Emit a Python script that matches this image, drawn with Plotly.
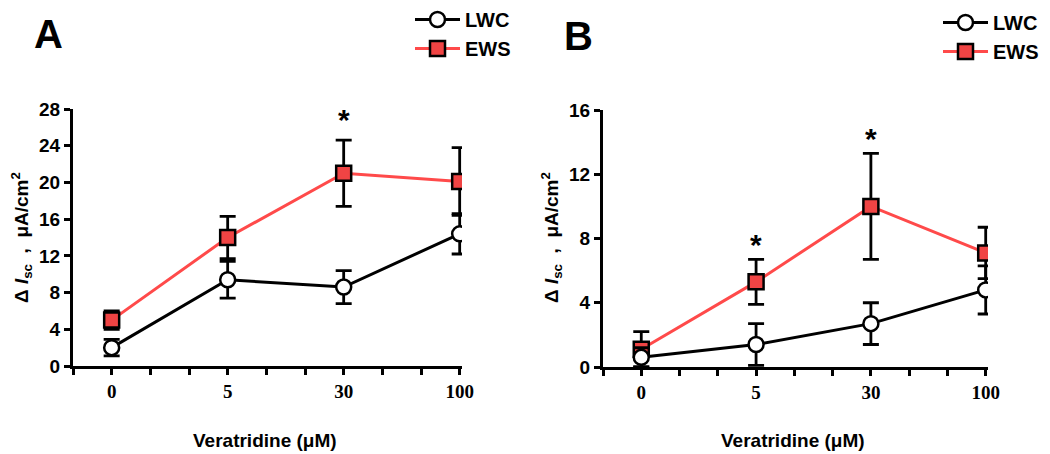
import plotly.graph_objects as go

categories = ["0", "5", "30", "100"]
xpos = [0, 1, 2, 3]

# Panel A
a_lwc = [2.0, 9.4, 8.6, 14.4]
a_lwc_err = [0.9, 2.0, 1.8, 2.2]
a_ews = [5.0, 14.0, 21.0, 20.1]
a_ews_err = [1.0, 2.3, 3.6, 3.7]
a_star_x = [2]
a_star_y = [26.9]

# Panel B
b_lwc = [0.6, 1.4, 2.7, 4.8]
b_lwc_err = [0.6, 1.3, 1.3, 1.5]
b_ews = [1.1, 5.3, 10.0, 7.1]
b_ews_err = [1.1, 1.4, 3.3, 1.6]
b_star_x = [1, 2]
b_star_y = [7.6, 14.2]

a_yticks = [0, 4, 8, 12, 16, 20, 24, 28]
b_yticks = [0, 4, 8, 12, 16]

RED = "#F04444"
LINE_RED = "#FF4A4A"

fig = go.Figure()

def add_panel(xa, ya, lwc, lwc_err, ews, ews_err, legend):
    fig.add_trace(go.Scatter(
        x=xpos, y=ews, name="EWS", mode="lines+markers", legendgroup=legend + "e",
        line=dict(color=LINE_RED, width=3),
        marker=dict(symbol="square", size=15, color=RED, line=dict(color="black", width=2.5)),
        error_y=dict(type="data", array=ews_err, color="black", thickness=2.8, width=8),
        xaxis=xa, yaxis=ya, legend=legend))
    fig.add_trace(go.Scatter(
        x=xpos, y=lwc, name="LWC", mode="lines+markers", legendgroup=legend + "l",
        line=dict(color="black", width=3),
        marker=dict(symbol="circle", size=15, color="white", line=dict(color="black", width=2.5)),
        error_y=dict(type="data", array=lwc_err, color="black", thickness=2.8, width=8),
        xaxis=xa, yaxis=ya, legend=legend))

add_panel("x", "y", a_lwc, a_lwc_err, a_ews, a_ews_err, "legend")
add_panel("x2", "y2", b_lwc, b_lwc_err, b_ews, b_ews_err, "legend2")

minor_vals = [i / 3 for i in range(-1, 10)]
minor_text = []
for v in minor_vals:
    r = round(v, 6)
    if abs(r - round(r)) < 1e-6 and 0 <= round(r) <= 3:
        minor_text.append(categories[int(round(r))])
    else:
        minor_text.append("")

xax = dict(range=[-1/3, 3.02], tickvals=minor_vals, ticktext=minor_text,
           showgrid=False, zeroline=False, showline=True, linecolor="black", linewidth=3,
           ticks="outside", ticklen=6, tickwidth=2.5, tickcolor="black",
           tickfont=dict(family="Liberation Serif", size=19, color="black", weight="bold"),
           fixedrange=True)
yfont = dict(family="Liberation Sans Narrow, Liberation Sans", size=19, color="black", weight="bold")
legfont = dict(family="Liberation Sans", size=20, color="black", weight="bold")

fig.update_layout(
    width=1050, height=454, margin=dict(l=0, r=0, t=0, b=0, autoexpand=False),
    paper_bgcolor="white", plot_bgcolor="white",
    xaxis=dict(domain=[73/1050, 462/1050], anchor="y", **xax),
    xaxis2=dict(domain=[603/1050, 988/1050], anchor="y2", **xax),
    yaxis=dict(domain=[88/454, 345/454], range=[0, 28], tickvals=a_yticks, anchor="x",
               showgrid=False, zeroline=False, showline=True, linecolor="black", linewidth=3,
               ticks="outside", ticklen=6, tickwidth=2.5, tickcolor="black", tickfont=yfont),
    yaxis2=dict(domain=[87/454, 344/454], range=[0, 16], tickvals=b_yticks, anchor="x2",
                showgrid=False, zeroline=False, showline=True, linecolor="black", linewidth=3,
                ticks="outside", ticklen=6, tickwidth=2.5, tickcolor="black", tickfont=yfont),
    legend=dict(x=410/1050, y=1 - 0/454, xanchor="left", yanchor="top", traceorder="reversed",
                font=legfont, bgcolor="rgba(0,0,0,0)", tracegroupgap=7, itemwidth=45),
    legend2=dict(x=938/1050, y=1 - 3/454, xanchor="left", yanchor="top", traceorder="reversed",
                 font=legfont, bgcolor="rgba(0,0,0,0)", tracegroupgap=7, itemwidth=45),
    showlegend=True,
)

starfont = dict(family="Liberation Sans", size=30, color="black", weight="bold")
ann = []
for sx, sy in zip(a_star_x, a_star_y):
    ann.append(dict(x=sx, y=sy, xref="x", yref="y", text="*", showarrow=False, font=starfont,
                    xanchor="center", yanchor="middle"))
for sx, sy in zip(b_star_x, b_star_y):
    ann.append(dict(x=sx, y=sy, xref="x2", yref="y2", text="*", showarrow=False, font=starfont,
                    xanchor="center", yanchor="middle"))

titlefont = dict(family="Liberation Sans", size=19, color="black", weight="bold")
ytitle = "Δ <i>I</i><sub>sc</sub>  ,  μA/cm<sup>2</sup>"
letterfont = dict(family="Liberation Sans", size=40, color="black", weight="bold")
ann += [
    dict(x=48/1050, y=1 - 34/454, text="A", font=letterfont),
    dict(x=578/1050, y=1 - 36/454, text="B", font=letterfont),
    dict(x=265/1050, y=1 - 440/454, text="Veratridine (μM)", font=titlefont),
    dict(x=793/1050, y=1 - 440/454, text="Veratridine (μM)", font=titlefont),
    dict(x=22/1050, y=1 - 238/454, text=ytitle, textangle=-90, font=titlefont),
    dict(x=552/1050, y=1 - 238/454, text=ytitle, textangle=-90, font=titlefont),
]
for a in ann[len(a_star_x) + len(b_star_x):]:
    a.update(xref="paper", yref="paper", showarrow=False, xanchor="center", yanchor="middle")
fig.update_layout(annotations=ann)

fig.write_html("out.html", config={"displayModeBar": False},
               post_script="document.body.style.margin='0';document.body.style.padding='0';")
